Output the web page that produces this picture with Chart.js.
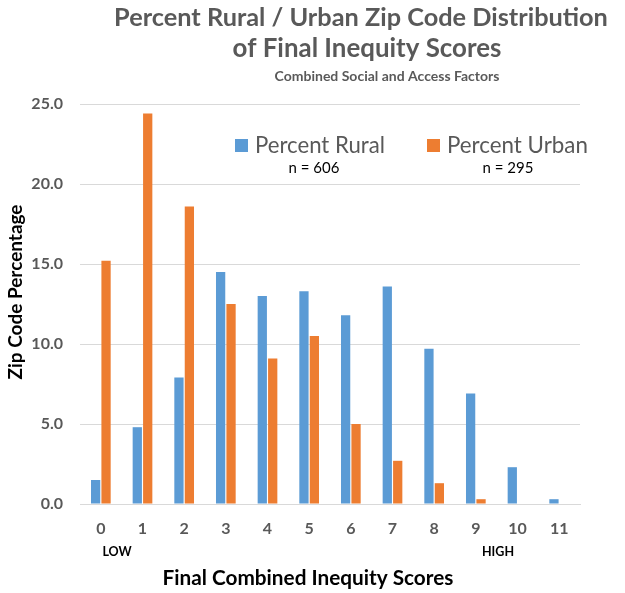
<!DOCTYPE html>
<html>
<head>
<meta charset="utf-8">
<script src="https://cdn.jsdelivr.net/npm/chart.js@4/dist/chart.umd.min.js"></script>
<style>
    body { margin: 0; background: #ffffff; }
</style>
</head>
<body>
<canvas id="grafica" width="625" height="593"></canvas>
<script>
// Datos de la grafica
const scores = ["0", "1", "2", "3", "4", "5", "6", "7", "8", "9", "10", "11"];
const rural = [1.5, 4.8, 7.9, 14.5, 13.0, 13.3, 11.8, 13.6, 9.7, 6.9, 2.3, 0.3];
const urban = [15.2, 24.4, 18.6, 12.5, 9.1, 10.5, 5.0, 2.7, 1.3, 0.3, 0, 0];
const seriesNames = ["Percent Rural", "Percent Urban"];
const sampleSizes = [606, 295];
const yTicks = [0, 5, 10, 15, 20, 25];

const FONT = "Lato";
const GRAY = "#595959";

// texto fijo: titulo, ejes, LOW / HIGH (x = centro, w = ancho deseado o size = tamaño fijo)
const notes = [
    { text: "Percent Rural / Urban Zip Code Distribution", x: 361, y: 18, w: 494, bold: true, color: GRAY },
    { text: "of Final Inequity Scores", x: 367, y: 49, w: 269, bold: true, color: GRAY },
    { text: "Combined Social and Access Factors", x: 387, y: 76, size: 14, bold: true, color: GRAY },
    { text: "LOW", x: 117, y: 552, size: 12.5, bold: true, color: "#000" },
    { text: "HIGH", x: 498, y: 552, size: 12.5, bold: true, color: "#000" },
    { text: "Final Combined Inequity Scores", x: 308, y: 578, w: 291, bold: true, color: "#000" },
    { text: "Zip Code Percentage", x: 16, y: 292, w: 175, bold: true, color: "#000", rot: -Math.PI / 2 }
];
const legendPos = [{ x: 235, y: 139, w: 130, nx: 314 }, { x: 427, y: 139, w: 141, nx: 508 }];

function setFont(ctx, n) {
    let weight = n.bold ? "bold" : "normal";
    let size = n.size;
    if (!size) {
        ctx.font = weight + " 100px " + FONT;
        size = 100 * n.w / ctx.measureText(n.text).width;
    }
    ctx.font = weight + " " + size + "px " + FONT;
}

const textPlugin = {
    id: "textPlugin",
    afterDraw(chart) {
        let ctx = chart.ctx;
        ctx.save();
        ctx.textAlign = "center";
        ctx.textBaseline = "middle";
        notes.forEach(n => {
            ctx.save();
            ctx.translate(n.x, n.y);
            if (n.rot) ctx.rotate(n.rot);
            setFont(ctx, n);
            ctx.fillStyle = n.color;
            ctx.fillText(n.text, 0, 0);
            ctx.restore();
        });
        // leyenda dentro del area
        chart.data.datasets.forEach((ds, i) => {
            let p = legendPos[i];
            ctx.fillStyle = ds.backgroundColor;
            ctx.fillRect(p.x, p.y, 13, 13);
            ctx.textAlign = "left";
            setFont(ctx, { text: ds.label, w: p.w });
            ctx.fillStyle = GRAY;
            ctx.fillText(ds.label, p.x + 20, p.y + 7);
            let nText = "n = " + sampleSizes[i];
            ctx.textAlign = "center";
            setFont(ctx, { text: nText, size: 15 });
            ctx.fillStyle = "#000";
            ctx.fillText(nText, p.nx, 168);
        });
        ctx.restore();
    }
};

let ctx = document.getElementById("grafica");
let myChart = new Chart(ctx, {
    type: "bar",
    data: {
        labels: scores,
        datasets: [{
            label: seriesNames[0],
            backgroundColor: "#5B9BD5",
            data: rural
        }, {
            label: seriesNames[1],
            backgroundColor: "#ED7D31",
            data: urban
        }]
    },
    options: {
        responsive: false,
        animation: false,
        categoryPercentage: 0.5,
        barPercentage: 0.89,
        layout: { padding: { top: 104, right: 45, bottom: 0, left: 0 } },
        plugins: {
            legend: { display: false },
            title: { display: false },
            tooltip: { enabled: false }
        },
        scales: {
            x: {
                grid: { display: false, drawTicks: false },
                border: { color: "#D9D9D9" },
                ticks: { color: GRAY, font: { family: FONT, size: 16, weight: "bold" }, padding: 15 },
                afterFit(scale) {
                    scale.height = 89;
                    scale.paddingLeft = 0;
                    scale.paddingRight = 0;
                }
            },
            y: {
                min: 0,
                max: 25,
                grid: { color: "#D9D9D9", drawTicks: false },
                border: { display: false },
                afterBuildTicks(scale) {
                    scale.ticks = yTicks.map(v => ({ value: v }));
                },
                ticks: {
                    color: GRAY,
                    font: { family: FONT, size: 16, weight: "bold" },
                    padding: 17,
                    callback: v => v.toFixed(1)
                },
                afterFit(scale) {
                    scale.width = 80;
                    scale.paddingTop = 0;
                    scale.paddingBottom = 0;
                }
            }
        }
    },
    plugins: [textPlugin]
});
</script>
</body>
</html>
